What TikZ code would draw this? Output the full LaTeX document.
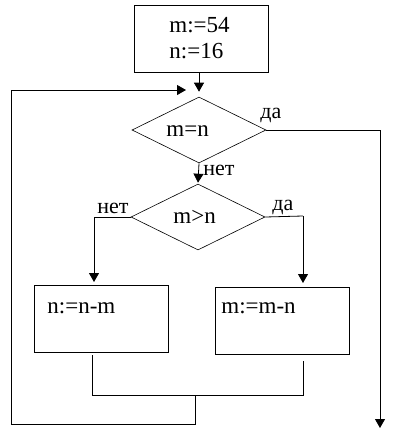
\documentclass[tikz,border=0pt]{standalone}
\usepackage{fontspec}
\setmainfont{Liberation Serif}
\newfontfamily\tnr{Liberation Serif}
\usetikzlibrary{shapes.geometric,arrows.meta}
\begin{document}
\begin{tikzpicture}[x=1pt,y=-1pt, line width=0.8pt,
 box/.style={draw, rectangle, minimum width=134pt, minimum height=67pt, inner sep=0pt, anchor=north west},
 dec/.style={draw, diamond, minimum width=134pt, minimum height=66pt, inner sep=0pt, line width=0.6pt},
 txt/.style={font=\tnr\fontsize{23}{27}\selectfont, inner sep=0pt, anchor=base west},
 lbl/.style={font=\tnr\fontsize{22}{25}\selectfont, inner sep=0pt, anchor=base west},
 arr/.style={-{Triangle[length=9pt,width=10pt]}}]
\useasboundingbox (0,0) rectangle (392,431);
% blocks
\node[box] (init) at (134,5) {};
\node[txt] (t1) at (169,32) {m:=54};
\node[txt] (t2) at (169,58) {n:=16};
\node[dec] (d1) at (199,130) {};
\node[txt] (t3) at (166,136) {m=n};
\node[dec] (d2) at (198,217) {};
\node[txt] (t4) at (173,223) {m>n};
\node[box] (bl) at (34,285) {};
\node[txt] (t5) at (47,313) {n:=n-m};
\node[box] (br) at (215,287) {};
\node[txt] (t6) at (221,313) {m:=m-n};
% labels
\node[lbl] (yes1) at (260,118) {да};
\node[lbl] (no1) at (203,175) {нет};
\node[lbl] (no2) at (97,213) {нет};
\node[lbl] (yes2) at (272,210) {да};
% coordinates
\coordinate (loopin) at (186,90);
\coordinate (exitc) at (380,130);
\coordinate (exitend) at (380,428);
\coordinate (lc) at (94,217);
\coordinate (lend) at (94,282);
\coordinate (rc) at (303,216);
\coordinate (rend) at (303,283);
\coordinate (bla) at (92,355);
\coordinate (blb) at (92,395);
\coordinate (bra) at (303,361);
\coordinate (brb) at (303,395);
\coordinate (mrg) at (195,395);
\coordinate (mrgd) at (195,424);
\coordinate (ll) at (11,424);
\coordinate (lu) at (11,90);
% connectors
\draw[arr] (init.south -| d1.north) -- ([yshift=5pt]d1.north);
\draw[arr] (d1.south) -- ([yshift=1pt]d2.north);
\draw (d1.east) -- (exitc);
\draw[arr] (exitc) -- (exitend);
\draw (d2.west) -- (lc);
\draw[arr] (lc) -- (lend);
\draw (d2.east) -- (rc);
\draw[arr] (rc) -- (rend);
\draw (bla) -- (blb) -- (brb) -- (bra);
\draw (mrg) -- (mrgd) -- (ll) -- (lu);
\draw[arr] (lu) -- (loopin);
\end{tikzpicture}
\end{document}
